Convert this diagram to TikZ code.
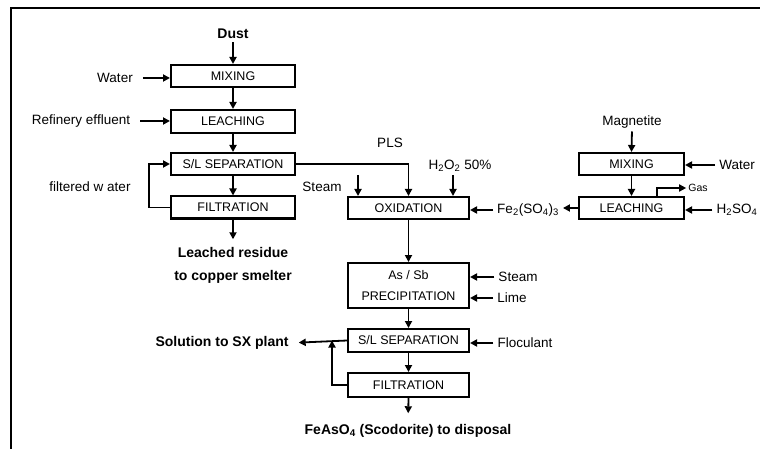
\documentclass[tikz,border=0pt]{standalone}
\usepackage{fontspec}
\setmainfont{Liberation Sans}
\usetikzlibrary{arrows.meta,positioning,calc}
\definecolor{ink}{HTML}{000000}
\newcommand{\UnitW}{121}
\newcommand{\UnitH}{22}

\tikzset{
  unit/.style={draw=ink, line width=2pt, minimum width=\UnitW pt, minimum height=\UnitH pt,
    inner sep=0pt, font=\fontsize{12.5}{21}\selectfont, align=center},
  feed/.style={inner xsep=4pt, inner ysep=1pt, font=\fontsize{13.5}{16}\selectfont},
  product/.style={inner sep=1pt, font=\bfseries\fontsize{14}{23}\selectfont, align=center},
  flow/.style={-{Triangle[length=7pt,width=7pt]}, line width=1.8pt, ink},
}

\begin{document}
\begin{tikzpicture}[x=1pt, y=-1pt, ink]
\useasboundingbox (0,0) rectangle (760,449);

% --- Frame (cut at right and bottom) --------------------------------------------
\draw[line width=2.2pt] (11,449) -- (11,8) -- (760,8);

% --- Units ----------------------------------------------------------------------------
\node[unit, minimum width=124pt] (mix1)   at (233,76)    {MIXING};
\node[unit, minimum width=124pt, minimum height=23pt] (leach1) at (233,121.5) {LEACHING};
\node[unit, minimum width=124pt] (sep1)   at (233,164)   {S/L SEPARATION};
\node[unit, minimum width=124pt] (filt1)  at (233,207.5) {FILTRATION};
\node[unit] (oxid)  at (408.5,208)   {OXIDATION};
\node[unit, minimum height=45pt] (prec) at (408.5,285.5) {As / Sb\\PRECIPITATION};
\node[unit, minimum height=23pt] (sep2)  at (408.5,340.5) {S/L SEPARATION};
\node[unit, minimum height=24pt] (filt2) at (408.5,385)   {FILTRATION};
\node[unit, minimum width=105pt] (mix2)   at (631.5,164) {MIXING};
\node[unit, minimum width=105pt] (leach2) at (631.5,208) {LEACHING};

% --- Feeds and products --------------------------------------------------------------
\node[product] (dust) at (233,34) {Dust};
\node[feed] (water1) at (115,78)  {Water};
\node[feed] (effl)   at (81,121)  {Refinery effluent};
\node[feed] (fwater) at (90,187)  {filtered w ater};
\node[product] (residue) at (233,265.5) {Leached residue\\to copper smelter};
\node[feed] (pls)    at (390,143) {PLS};
\node[feed] (steam1) at (322,187) {Steam};
\node[feed] (h2o2)   at (460,166) {H\textsubscript{2}O\textsubscript{2} 50\%};
\node[feed] (fe)     at (528,210) {Fe\textsubscript{2}(SO\textsubscript{4})\textsubscript{3}};
\node[feed] (magn)   at (632,122) {Magnetite};
\node[feed] (water2) at (737,165) {Water};
\node[feed, font=\fontsize{10.5}{12}\selectfont, inner xsep=2pt] (gas) at (698,188) {Gas};
\node[feed] (h2so4)  at (737,210) {H\textsubscript{2}SO\textsubscript{4}};
\node[feed] (steam2) at (518,277) {Steam};
\node[feed] (lime)   at (512,298) {Lime};
\node[feed] (floc)   at (525,343) {Floculant};
\node[product] (sx)  at (222,343) {Solution to SX plant};
\node[product] (scod) at (408,431) {FeAsO\textsubscript{4} (Scodorite) to disposal};

% --- Main lines, top to bottom -------------------------------------------------------
\foreach \a/\b in {mix1/leach1, leach1/sep1, sep1/filt1, oxid/prec, prec/sep2, sep2/filt2, mix2/leach2} {
  \draw[flow] (\a.south) -- (\b.north);
}
\draw[flow, shorten <=2pt] (dust.south) -- (mix1.north);
\draw[flow, shorten <=2pt] (magn.south) -- (mix2.north);
\draw[flow, shorten >=7pt] (filt1.south) -- (residue.north);
\draw[flow, shorten >=10pt] (filt2.south) -- (scod.north);

% --- Side feeds ----------------------------------------------------------------------
\foreach \a/\b in {water1/mix1, effl/leach1} {
  \draw[flow, shorten <=6pt] (\a.east) -- (\a.east -| \b.west);
}
\foreach \a/\b in {water2/mix2, h2so4/leach2, steam2/prec, lime/prec, floc/sep2, fe/oxid} {
  \draw[flow] (\a.west) -- (\a.west -| \b.east);
}
\draw[flow] (leach2.west) -- (leach2.west -| fe.east);
\coordinate (steamin) at (358,175);
\draw[flow] (steamin) -- (steamin |- oxid.north);
\coordinate (h2o2in) at (453,175);
\draw[flow] (h2o2in) -- (h2o2in |- oxid.north);
\draw[flow] (sep1.east) -| (oxid.north);
\draw[flow] ([xshift=25.5pt]leach2.north) |- (gas.west);

% --- Recycles --------------------------------------------------------------------------
\draw[flow] (filt1.west) -- ++(-21,0) |- (sep1.west);
\coordinate (sxjoin) at ([xshift=-15pt]sep2.west);
\draw[flow, shorten >=9pt] (sep2.west) -- (sx.east);
\draw[flow] (filt2.west) -| (sxjoin);

\end{tikzpicture}
\end{document}
